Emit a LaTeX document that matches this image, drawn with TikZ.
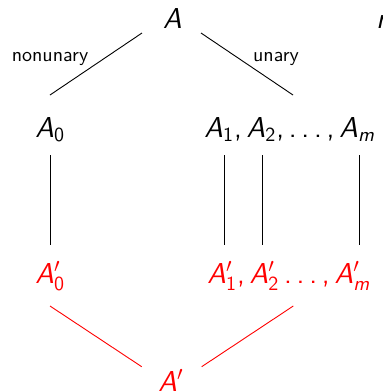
\documentclass[tikz,border=0pt]{standalone}
\DeclareMathVersion{sans}
\SetSymbolFont{operators}{sans}{OT1}{cmss}{m}{n}
\SetSymbolFont{letters}{sans}{OT1}{cmss}{m}{sl}
\AtBeginDocument{\mathversion{sans}\mathcode`\,="602C \mathchardef\ldotp="602E }
\begin{document}
\begin{tikzpicture}[x=0.5pt,y=-0.5pt,
  mathtxt/.style={inner sep=0pt,font=\fontsize{14.4}{17}\selectfont},
  lbl/.style={inner sep=0pt,font=\sffamily\fontsize{10}{12}\selectfont},
  edge/.style={line width=0.45pt},
  redtxt/.style={mathtxt,text=red},
  rededge/.style={edge,draw=red}]
\useasboundingbox (0,0) rectangle (383,392);
\node[mathtxt,anchor=base] (A) at (172.5,28) {$A$};
\node[mathtxt,anchor=base west] (frag) at (376,28) {$n$};
\node[mathtxt,anchor=base west] (A0) at (35,137) {$A_0$};
\node[mathtxt,anchor=base west] (Ai) at (204,137) {$A_1, A_2, \ldots, A_m$};
\node[redtxt,anchor=base west] (B0) at (35,283) {$A'_0$};
\node[redtxt,anchor=base west] (Bi) at (207,283) {$A'_1, A'_2 \ldots, A'_m$};
\node[redtxt,anchor=base] (B) at (171,391) {$A'$};
\node[lbl,anchor=base] (ln) at (50,61) {nonunary};
\node[lbl,anchor=base] (lu) at (276,61) {unary};
% line end points
\coordinate (a1) at (142,33);  \coordinate (a2) at (50,95);
\coordinate (a3) at (201,33);  \coordinate (a4) at (293,95);
\coordinate (v0t) at (50.5,155);  \coordinate (v0b) at (50.5,245);
\coordinate (v1t) at (224.3,155); \coordinate (v1b) at (224.3,245);
\coordinate (v2t) at (262.3,155); \coordinate (v2b) at (262.3,245);
\coordinate (vmt) at (359,155);   \coordinate (vmb) at (359,245);
\coordinate (r1) at (50,306);   \coordinate (r2) at (141.7,366.7);
\coordinate (r3) at (293.3,306); \coordinate (r4) at (201.7,366.7);
\draw[edge] (a1) -- (a2);
\draw[edge] (a3) -- (a4);
\draw[edge] (v0t) -- (v0b);
\draw[edge] (v1t) -- (v1b);
\draw[edge] (v2t) -- (v2b);
\draw[edge] (vmt) -- (vmb);
\draw[rededge] (r1) -- (r2);
\draw[rededge] (r3) -- (r4);
\end{tikzpicture}
\end{document}
